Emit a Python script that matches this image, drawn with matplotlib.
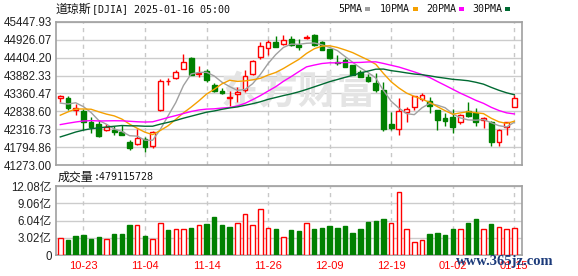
import numpy as np
import matplotlib
matplotlib.use("Agg")
import matplotlib.pyplot as plt
from matplotlib.patches import Rectangle

# x轴日期标签 (每8根K线)
tick_idx = [3, 11, 19, 27, 35, 43, 51, 59]
tick_lbl = ["10-23", "11-04", "11-14", "11-26", "12-09", "12-19", "01-02", "01-15"]

# 窗口前的收盘价, 用来算均线
prev_close = [40829.59, 40736.96, 40861.71, 41096.77, 41393.78, 41622.08, 41606.18,
              41503.10, 42025.19, 42063.36, 42124.65, 42208.22, 41914.75, 42175.11,
              42313.00, 42330.15, 42156.97, 42196.52, 42011.59, 42352.75, 41954.24,
              42080.37, 42512.00, 42454.12, 42863.86, 43065.22, 42740.42, 43077.70,
              43239.05]

opens = [43230, 43240, 42880, 42860, 42540, 42470, 42300, 42300, 42250, 41950,
         41880, 42030, 41830, 42870, 43720, 43800, 44090, 44400, 43930, 44020,
         43600, 43440, 43240, 43340, 43460, 43920, 44440, 44680, 44870, 44800,
         44940, 44780, 44990, 45070, 44850, 44650, 44290, 44330, 44190, 43980,
         43850, 43680, 43460, 42470, 42310, 42830, 42960, 43210, 43140, 42880,
         42650, 42670, 42520, 42850, 42790, 42590, 42540, 41940, 42380, 42960]
highs = [43330, 43300, 43060, 42900, 42660, 42600, 42460, 42420, 42440, 41990,
         42330, 42100, 42280, 43790, 43800, 44060, 44510, 44420, 44150, 44080,
         43660, 43520, 43420, 43560, 44050, 44330, 44850, 44920, 45040, 45070,
         45040, 44940, 45080, 45090, 44890, 44660, 44490, 44410, 44190, 44060,
         43930, 43950, 43700, 42810, 43220, 42960, 43300, 43380, 43250, 42880,
         42800, 42900, 42760, 43120, 42930, 42670, 42545, 42330, 42540, 43320]
lows = [43100, 42870, 42740, 42290, 42200, 42080, 42270, 42140, 42160, 41700,
        41860, 41650, 41770, 42850, 43620, 43770, 44080, 43890, 43850, 43700,
        43400, 43340, 43000, 43120, 43390, 43900, 44360, 44490, 44730, 44790,
        44760, 44630, 44960, 44760, 44620, 44380, 44200, 44140, 43900, 43830,
        43700, 43400, 42280, 42300, 42150, 42540, 42880, 43130, 42780, 42300,
        42420, 42200, 42480, 42660, 42400, 42340, 41840, 41840, 42150, 42960]
closes = [43275.91, 42931.60, 42924.89, 42514.95, 42374.36, 42114.40, 42387.57,
          42233.05, 42141.54, 41763.46, 42052.19, 41794.60, 42221.88, 43729.93,
          43729.34, 43988.99, 44293.13, 43910.98, 43958.19, 43750.86, 43444.99,
          43389.60, 43268.94, 43408.47, 43870.35, 44296.51, 44736.57, 44860.31,
          44722.06, 44910.65, 44782.00, 44705.53, 45014.04, 44765.71, 44642.52,
          44401.93, 44247.83, 44148.56, 43914.12, 43828.06, 43717.48, 43449.90,
          42326.87, 42342.24, 42840.26, 42906.95, 43297.03, 43325.80, 42992.21,
          42573.73, 42544.22, 42392.27, 42732.13, 42706.56, 42528.36, 42635.20,
          41938.45, 42297.12, 42518.28, 43221.55]
# 成交量 (亿)
vols = [2.91, 2.61, 3.31, 3.49, 2.79, 3.14, 2.79, 3.66, 3.66, 5.23,
        5.17, 3.31, 2.79, 5.52, 4.36, 4.47, 4.47, 4.71, 5.17, 5.40,
        6.62, 5.23, 4.88, 5.52, 7.15, 5.17, 8.13, 4.65, 4.53, 3.08,
        4.36, 4.18, 5.58, 4.53, 4.71, 5.06, 4.71, 5.06, 3.83, 4.53,
        5.75, 5.93, 6.28, 5.58, 11.10, 4.47, 2.27, 2.61, 3.66, 3.83,
        3.49, 4.53, 4.53, 5.58, 6.28, 4.53, 5.40, 4.88, 4.53, 4.79115728]

price_ticks = [41273.00, 41794.86, 42316.73, 42838.60, 43360.47,
               43882.33, 44404.20, 44926.07, 45447.93]
price_lbls = ["41273.00", "41794.86", "42316.73", "42838.60", "43360.47",
              "43882.33", "44404.20", "44926.07", "45447.93"]
vol_ticks = [0, 3.02, 6.04, 9.06, 12.08]
vol_lbls = ["0", "3.02亿", "6.04亿", "9.06亿", "12.08亿"]

ma_n = [5, 10, 20, 30]
ma_col = ["#a0a0a0", "#f5a000", "#ff00ff", "#006a32"]
ma_lbl = ["5PMA", "10PMA", "20PMA", "30PMA"]

UP = "#ff0000"
DN = "#008000"
W, H = 578, 276
def fx(x): return x / W
def fy(y): return 1 - y / H

x = np.arange(len(closes))
o = np.array(opens); c = np.array(closes)
hi = np.array(highs); lo = np.array(lows)
up = c >= o
full = np.array(prev_close + closes)

fig = plt.figure(figsize=(W / 100, H / 100), dpi=100)
ax = fig.add_axes([fx(56), fy(165), fx(522) - fx(56), fy(22) - fy(165)])
axv = fig.add_axes([fx(56), fy(255), fx(522) - fx(56), fy(186) - fy(255)])

for a in (ax, axv):
    a.set_xlim(-0.56, 60.0)
    for s in a.spines.values():
        s.set_color("#a0a0a0")
        s.set_linewidth(1.2)
    for i in tick_idx:
        a.axvline(i, color="#c8c8c8", lw=1, ls=(0, (3, 3)), zorder=0.6)
    a.grid(axis="y", color="#cccccc", lw=1, zorder=0.5)
    a.set_axisbelow(True)
    a.tick_params(length=0, pad=3)

# 水印
ax.text(fx(298), fy(93), "东方财富", transform=fig.transFigure, ha="center", va="center",
        fontsize=28, fontweight="bold", color="#e4e4e4", family="Noto Sans CJK SC", zorder=0.7)

# K线
ax.vlines(x[up], lo[up], hi[up], color=UP, lw=1, zorder=3)
ax.vlines(x[~up], lo[~up], hi[~up], color=DN, lw=1, zorder=3)
body_h = np.maximum(np.abs(c - o), 8)
ax.bar(x[up], body_h[up], bottom=np.minimum(o, c)[up], width=0.62,
       facecolor="white", edgecolor=UP, lw=1, zorder=4)
ax.bar(x[~up], body_h[~up], bottom=np.minimum(o, c)[~up], width=0.62,
       facecolor=DN, edgecolor=DN, lw=1, zorder=4)

# 均线
for n, col in zip(ma_n, ma_col):
    ma = np.convolve(full, np.ones(n) / n, mode="valid")[-len(closes):]
    ax.plot(x, ma, color=col, lw=1, zorder=5)

ax.set_ylim(price_ticks[0], price_ticks[-1])
ax.set_yticks(price_ticks)
ax.set_yticklabels(price_lbls, fontsize=8.3, family="Liberation Sans", color="#222222")
ax.set_xticks([])

# 成交量
prev = np.concatenate([[prev_close[-1]], c[:-1]])
vup = c >= prev
v = np.array(vols)
axv.bar(x[vup], v[vup], width=0.58, facecolor="white", edgecolor=UP, lw=1, zorder=3)
axv.bar(x[~vup], v[~vup], width=0.58, facecolor=DN, edgecolor=DN, lw=1, zorder=3)
axv.set_ylim(0, 12.08)
axv.set_yticks(vol_ticks)
axv.set_yticklabels(vol_lbls, fontsize=8.3, family=["Liberation Sans", "Noto Sans CJK SC"],
                    color="#222222")
axv.set_xticks(tick_idx)
axv.set_xticklabels(tick_lbl, fontsize=8, family="Liberation Sans", color=UP)
axv.tick_params(axis="x", pad=4)

# 标题, 成交量文字
mono = "DejaVu Sans Mono"
cjk = "Noto Sans CJK SC"
fig.text(fx(56), fy(9), "道琼斯", ha="left", va="center", fontsize=8.6, family=cjk, color="#111111")
fig.text(fx(92), fy(9), "[DJIA] 2025-01-16 05:00", ha="left", va="center",
         fontsize=7.2, family=mono, color="#111111")
fig.text(fx(58), fy(177), "成交量", ha="left", va="center", fontsize=8.6, family=cjk, color="#111111")
fig.text(fx(94), fy(177), ":479115728", ha="left", va="center",
         fontsize=7.2, family=mono, color="#111111")

# 图例
lx = [338, 380, 426, 472]
mx = [365, 413, 459, 505]
for xl, xm, lb, col in zip(lx, mx, ma_lbl, ma_col):
    fig.text(fx(xl), fy(8.5), lb, ha="left", va="center", fontsize=7.2,
             family=mono, color="#111111")
    fig.add_artist(Rectangle((fx(xm), fy(11)), 5 / W, 4 / H, transform=fig.transFigure,
                             facecolor=col, edgecolor="none"))

fig.text(fx(456), fy(261), "www.365jz.com", ha="left", va="center", fontsize=10.5,
         fontweight="bold", family="Liberation Serif", color="#1b3a7a", zorder=10)

fig.savefig("out.png", dpi=100)
